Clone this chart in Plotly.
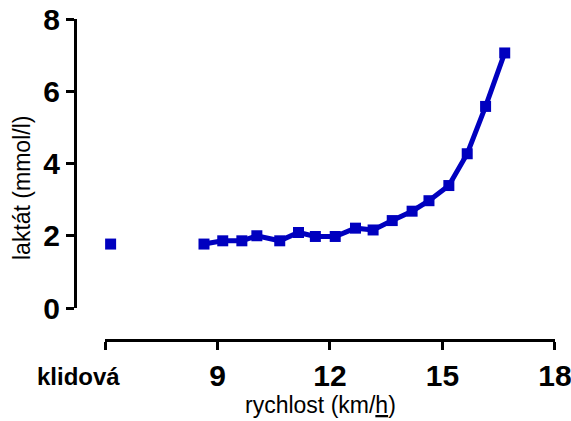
import plotly.graph_objects as go

# Data
rest_x = [6.15]
rest_y = [1.77]
speed = [8.64, 9.14, 9.65, 10.05, 10.66, 11.16, 11.61, 12.14, 12.68, 13.15,
         13.66, 14.19, 14.64, 15.17, 15.66, 16.15, 16.66]
lactate = [1.77, 1.86, 1.86, 2.0, 1.86, 2.09, 1.98, 1.98, 2.21, 2.16,
           2.42, 2.68, 2.97, 3.39, 4.27, 5.58, 7.06]
x_tickvals = [6, 9, 12, 15, 18]
x_ticktext = ["", "9", "12", "15", "18"]
y_tickvals = [0, 2, 4, 6, 8]

blue = "#0000BF"
W, H = 571, 421
L, R, T, B = 75, 16, 19, 81

fig = go.Figure()
fig.add_trace(go.Scatter(x=speed, y=lactate, mode="lines+markers",
                         line=dict(color=blue, width=5),
                         marker=dict(symbol="square", size=11, color=blue),
                         showlegend=False))
fig.add_trace(go.Scatter(x=rest_x, y=rest_y, mode="markers",
                         marker=dict(symbol="square", size=11, color=blue),
                         showlegend=False))

tickfont = dict(family="Liberation Sans, Arial", size=30, color="black", weight="bold")
fig.update_layout(
    width=W, height=H,
    margin=dict(l=L, r=R, t=T, b=B, autoexpand=False),
    paper_bgcolor="white", plot_bgcolor="white",
    xaxis=dict(range=[6, 18.001], domain=[(105 - L) / (W - L - R), 1],
               anchor="free", position=0, automargin=False,
               ticklabeloverflow="allow",
               showline=True, linecolor="black", linewidth=3,
               ticks="outside", ticklen=8, tickwidth=3, tickcolor="black",
               tickvals=x_tickvals, ticktext=x_ticktext,
               tickfont=tickfont, showgrid=False, zeroline=False),
    yaxis=dict(range=[0, 8], domain=[32 / (H - T - B), 1],
               anchor="free", position=0, automargin=False,
               ticklabeloverflow="allow",
               showline=True, linecolor="black", linewidth=3,
               ticks="outside", ticklen=8, tickwidth=3, tickcolor="black",
               tickvals=y_tickvals, tickfont=tickfont,
               showgrid=False, zeroline=False),
    annotations=[
        dict(text="klidová", xref="paper", yref="paper",
             x=(78 - L) / (W - L - R), y=-(377 - (H - B)) / (H - T - B),
             xanchor="center", yanchor="middle", showarrow=False,
             font=dict(family="Liberation Sans, Arial", size=24, color="black", weight="bold")),
        dict(text="rychlost (km/<u>h</u>)", xref="paper", yref="paper",
             x=(320 - L) / (W - L - R), y=-(405 - (H - B)) / (H - T - B),
             xanchor="center", yanchor="middle", showarrow=False,
             font=dict(family="Liberation Sans, Arial", size=23, color="black")),
        dict(text="laktát (mmol/l)", xref="paper", yref="paper", textangle=-90,
             x=-(L - 22) / (W - L - R), y=1 - (188 - T) / (H - T - B),
             xanchor="center", yanchor="middle", showarrow=False,
             font=dict(family="Liberation Sans, Arial", size=23, color="black")),
    ],
)
fig.write_html("out.html")
